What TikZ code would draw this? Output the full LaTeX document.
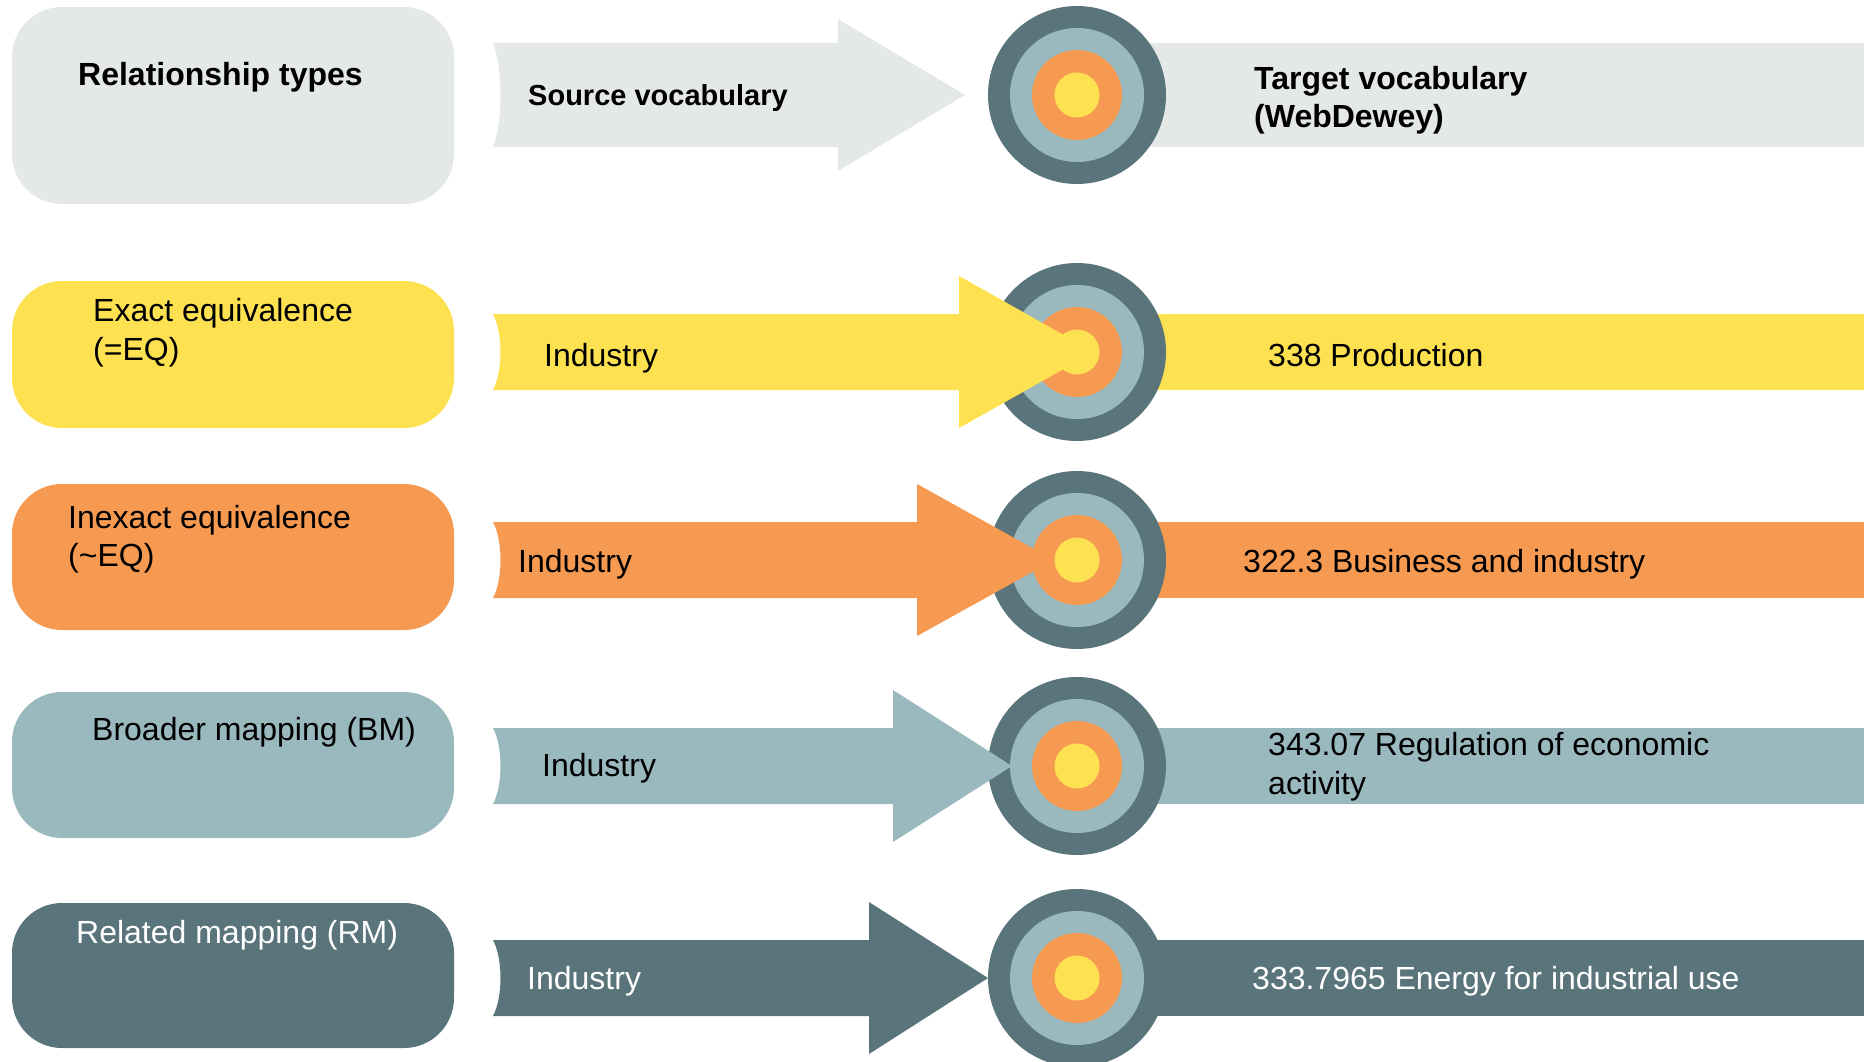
\documentclass[tikz,border=0pt]{standalone}
\usepackage{fontspec}
\setmainfont{Liberation Sans}
\definecolor{cgrey}{HTML}{E4E8E7}
\definecolor{cyel}{HTML}{FEE151}
\definecolor{corg}{HTML}{F69A52}
\definecolor{cblue}{HTML}{9AB9BE}
\definecolor{cdark}{HTML}{59747A}
\newcommand\mytarget[2]{%
  \node[circle, fill=cdark, minimum size=178pt, inner sep=0pt] (#1) at (1077,#2) {};
  \fill[cblue] (#1.center) circle[radius=67pt];
  \fill[corg] (#1.center) circle[radius=45pt];
  \fill[cyel] (#1.center) circle[radius=22.5pt];
}
% arrow: colour, centre y, half shaft, head base x, tip x
\newcommand\myarrow[5]{%
  \fill[#1] (493,#2-#3) -- (#4,#2-#3) -- (#4,#2-76) -- (#5,#2) -- (#4,#2+76)
    -- (#4,#2+#3) -- (493,#2+#3) .. controls (503,#2+0.5*#3) and (503,#2-0.5*#3) .. (493,#2-#3) -- cycle;
}
\begin{document}
\begin{tikzpicture}[x=1pt,y=-1pt,
  relbox/.style={rounded corners=50pt},
  txt/.style={font=\fontsize{32}{38}\selectfont, anchor=base west, inner sep=0pt},
  btxt/.style={txt, font=\fontsize{32}{38}\selectfont\bfseries},
  wtxt/.style={txt, text=white}]
\useasboundingbox (0,0) rectangle (1864,1062);
% ---------- header row ----------
\fill[cgrey, relbox] (12,7) rectangle (454,204);
\fill[cgrey] (1077,43) rectangle (1864,147);
\mytarget{t0}{95}
\myarrow{cgrey}{95}{52}{838}{965}
\node[btxt] (h1) at (78,86) {Relationship types};
\node[btxt, font=\fontsize{29}{36}\selectfont\bfseries] (h2) at (528,106) {Source vocabulary};
\node[btxt] (h3) at (1254,90) {Target vocabulary};
\node[btxt] (h4) at (1254,128) {(WebDewey)};
% ---------- row 1: exact equivalence ----------
\fill[cyel, relbox] (12,281) rectangle (454,428);
\fill[cyel] (1077,314) rectangle (1864,390);
\mytarget{t1}{352}
\myarrow{cyel}{352}{38}{959}{1094}
\node[txt] (a1) at (93,321) {Exact equivalence};
\node[txt] (a2) at (93,360) {(=EQ)};
\node[txt] (a3) at (544,366) {Industry};
\node[txt] (a4) at (1268,366) {338 Production};
% ---------- row 2: inexact equivalence ----------
\fill[corg, relbox] (12,484) rectangle (454,630);
\fill[corg] (1077,522) rectangle (1864,598);
\mytarget{t2}{560}
\myarrow{corg}{560}{38}{917}{1054}
\node[txt] (b1) at (68,528) {Inexact equivalence};
\node[txt] (b2) at (68,566) {(\textasciitilde EQ)};
\node[txt] (b3) at (518,572) {Industry};
\node[txt] (b4) at (1243,572) {322.3 Business and industry};
% ---------- row 3: broader mapping ----------
\fill[cblue, relbox] (12,692) rectangle (454,838);
\fill[cblue] (1077,728) rectangle (1864,804);
\mytarget{t3}{766}
\myarrow{cblue}{766}{38}{893}{1012}
\node[txt] (c1) at (92,740) {Broader mapping (BM)};
\node[txt] (c3) at (542,776) {Industry};
\node[txt] (c4) at (1268,755) {343.07 Regulation of economic};
\node[txt] (c5) at (1268,794) {activity};
% ---------- row 4: related mapping ----------
\fill[cdark, relbox] (12,903) rectangle (454,1048);
\fill[cdark] (1077,940) rectangle (1864,1016);
\mytarget{t4}{978}
\myarrow{cdark}{978}{38}{869}{988}
\node[wtxt] (d1) at (76,943) {Related mapping (RM)};
\node[wtxt] (d3) at (527,989) {Industry};
\node[wtxt] (d4) at (1252,989) {333.7965 Energy for industrial use};
\end{tikzpicture}
\end{document}
